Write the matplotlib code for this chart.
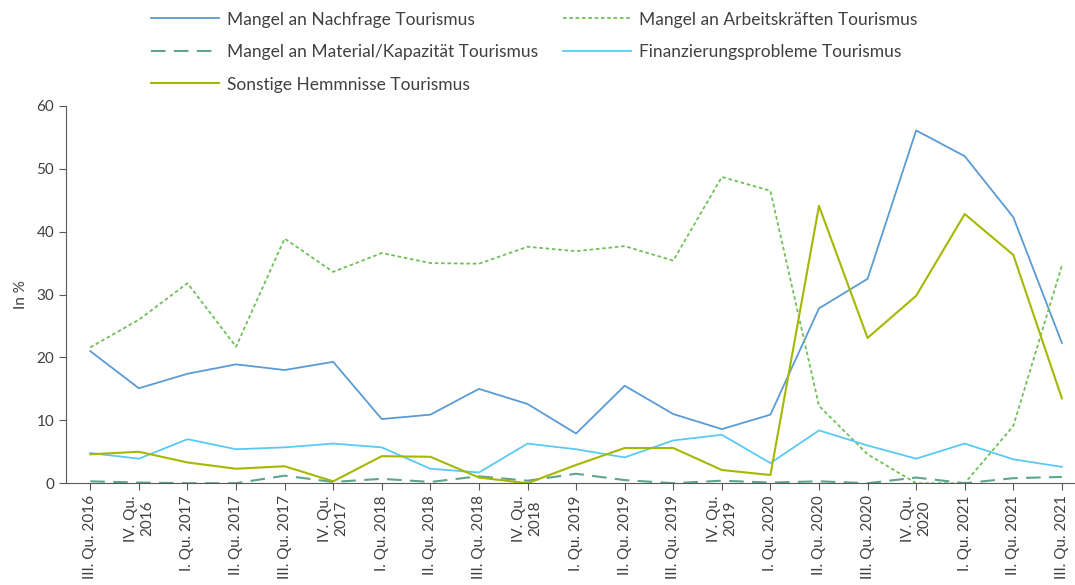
import matplotlib.pyplot as plt

quarters = ["III. Qu. 2016", "IV. Qu.\n2016", "I. Qu. 2017", "II. Qu. 2017", "III. Qu. 2017",
            "IV. Qu.\n2017", "I. Qu. 2018", "II. Qu. 2018", "III. Qu. 2018", "IV. Qu.\n2018",
            "I. Qu. 2019", "II. Qu. 2019", "III. Qu. 2019", "IV. Qu.\n2019", "I. Qu. 2020",
            "II. Qu. 2020", "III. Qu. 2020", "IV. Qu.\n2020", "I. Qu. 2021", "II. Qu. 2021",
            "III. Qu. 2021"]

nachfrage = [21.0, 15.1, 17.4, 18.9, 18.0, 19.3, 10.2, 10.9, 15.0, 12.6, 7.9,
             15.5, 11.0, 8.6, 10.9, 27.8, 32.5, 56.1, 52.0, 42.3, 22.3]
arbeitskraefte = [21.6, 26.0, 31.8, 21.7, 38.9, 33.6, 36.6, 35.0, 34.9, 37.6, 36.9,
                  37.7, 35.4, 48.7, 46.5, 12.3, 4.6, 0.0, 0.0, 9.1, 34.6]
material = [0.3, 0.1, 0.0, 0.0, 1.2, 0.2, 0.7, 0.2, 1.1, 0.4, 1.5,
            0.5, 0.0, 0.4, 0.1, 0.3, 0.0, 0.9, 0.0, 0.8, 1.0]
finanzierung = [4.8, 3.9, 7.0, 5.4, 5.7, 6.3, 5.7, 2.3, 1.7, 6.3, 5.4,
                4.1, 6.8, 7.7, 3.2, 8.4, 6.0, 3.9, 6.3, 3.8, 2.6]
sonstige = [4.6, 5.0, 3.3, 2.3, 2.7, 0.3, 4.3, 4.2, 0.9, 0.0, 2.9,
            5.6, 5.6, 2.1, 1.3, 44.1, 23.1, 29.8, 42.8, 36.3, 13.5]

plt.rcParams["font.family"] = ["Lato", "DejaVu Sans"]
text_color = "#404040"

fig = plt.figure(figsize=(10.75, 5.85), dpi=100)
ax = fig.add_axes([0.0614, 0.174, 0.9386, 0.645])

x = range(len(quarters))
l1, = ax.plot(x, nachfrage, color="#5B9BD5", lw=1.3, label="Mangel an Nachfrage Tourismus")
l2, = ax.plot(x, arbeitskraefte, color="#70C05A", lw=1.3, ls=(0, (2, 1.5)),
              label="Mangel an Arbeitskräften Tourismus")
l3, = ax.plot(x, material, color="#5FA391", lw=1.5, ls=(0, (7, 4)),
              label="Mangel an Material/Kapazität Tourismus")
l4, = ax.plot(x, finanzierung, color="#5BC8F5", lw=1.3, label="Finanzierungsprobleme Tourismus")
l5, = ax.plot(x, sonstige, color="#A5B800", lw=1.5, label="Sonstige Hemmnisse Tourismus")

ax.set_xlim(-0.5, 20.27)
ax.set_ylim(0, 60)
ax.set_yticks(range(0, 61, 10))
ax.set_xticks(list(x))
ax.set_xticklabels(quarters, rotation=90, fontsize=11, color=text_color,
                   multialignment="center")
ax.tick_params(axis="y", labelsize=11, labelcolor=text_color, color="#595959", length=5)
ax.tick_params(axis="x", color="#595959", length=5)
ax.set_ylabel("In %", fontsize=11, color=text_color, labelpad=6)

for side in ["top", "right"]:
    ax.spines[side].set_visible(False)
for side in ["left", "bottom"]:
    ax.spines[side].set_color("#595959")

# row-major order like the original legend
handles = [l1, l3, l5, l2, l4]
fig.legend(handles, [h.get_label() for h in handles], loc="upper left",
           bbox_to_anchor=(0.126, 1.007), ncol=2, frameon=False,
           fontsize=12.5, handlelength=3.9, handletextpad=0.5, columnspacing=1.4,
           labelspacing=0.95, labelcolor=text_color)

fig.savefig("out.png", dpi=100)
